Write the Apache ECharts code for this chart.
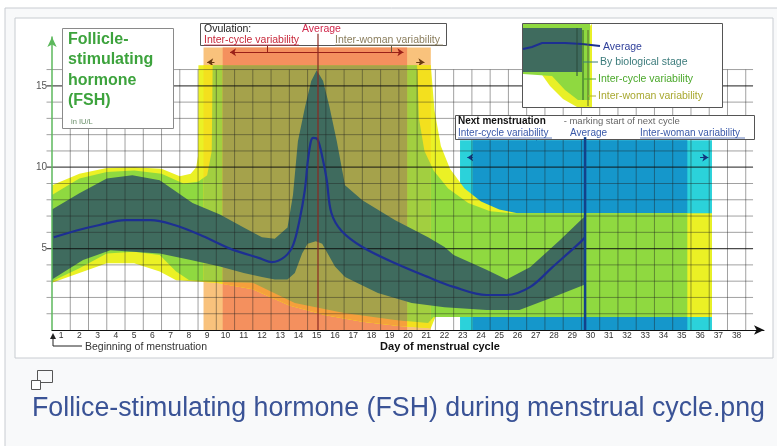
<!DOCTYPE html>
<html><head><meta charset="utf-8">
<script src="https://cdn.jsdelivr.net/npm/echarts@6/dist/echarts.min.js"></script>
<style>html,body{margin:0;padding:0;background:#fff}#c{width:777px;height:446px}</style>
</head><body><div id="c"></div>
<script>
// ---------------- data (chart units: x = day of cycle, y = FSH IU/L) ----------------
const dayLabels = ['1','2','3','4','5','6','7','8','9','10','11','12','13','14','15','16','17','18','19','20',
  '21','22','23','24','25','26','27','28','29','30','31','32','33','34','35','36','37','38'];
const levelLabels = [5, 10, 15];
const gridDays = [1,2,3,4,5,6,7,8,9,10,11,12,13,14,15,16,17,18,19,20,21,22,23,24,25,26,27,28,29,30,31,32,33,34,35,36,37,38];
const gridLevels = [1,2,3,4,5,6,7,8,9,10,11,12,13,14,15,16];

const fshAverage = [[0.1,5.7],[1.3,6.1],[2.6,6.45],[4.0,6.75],[5.4,6.75],[6.7,6.45],[8.1,5.85],[9.75,5.0],
  [11.4,4.4],[12.05,4.17],[12.75,4.5],[13.2,5.2],[13.55,6.7],[13.85,8.6],[14.05,10.7],[14.3,11.8],[14.55,11.7],
  [14.85,10.4],[15.05,9.2],[15.3,7.2],[15.85,6.1],[17.0,5.1],[18.8,4.1],[20.6,3.25],[22.0,2.65],[23.8,2.15],
  [24.9,2.15],[26.2,2.65],[27.4,3.85],[28.9,5.35],[29.2,5.7]];

const bioHigh = [[0,7.4],[1.5,8.4],[3.0,9.3],[4.4,9.5],[5.9,9.2],[7.7,7.8],[9.2,7.1],[10.5,6.3],[11.5,5.7],
  [12.2,5.6],[12.9,6.3],[13.2,8.3],[13.47,11.6],[13.86,13.7],[14.2,15.3],[14.5,15.95],[14.85,15.3],[15.2,13.7],
  [15.6,11.6],[16.05,8.9],[17.0,7.97],[18.8,6.75],[20.6,5.7],[21.5,5.1],[22.0,4.6],[23.8,3.7],[24.9,3.1],
  [26.2,3.87],[27.8,5.5],[29.2,7.0]];
const bioLow = [[0,3.1],[1.7,4.3],[3.2,4.9],[5.9,4.7],[7.6,4.3],[9.2,3.9],[10.5,3.5],[11.5,3.25],[12.2,3.1],
  [12.9,3.1],[13.3,3.5],[13.7,4.7],[14.0,5.3],[14.45,5.45],[14.8,5.3],[15.1,4.7],[15.5,3.9],[16.05,3.25],
  [17.85,2.27],[19.7,1.66],[21.5,1.4],[23.8,1.23],[25.6,1.23],[27.4,2.0],[29.2,2.8]];

const cycleHigh = [[0,8.3],[1.5,9.3],[3.0,9.7],[4.5,9.8],[6.0,9.6],[7.2,9.0],[8.0,9.1],[8.5,9.5],[8.75,11.0],
  [8.8,16.26],[20.0,16.26],[20.1,13.0],[20.4,11.0],[20.9,9.8],[21.7,8.7],[22.8,7.8],[24.0,7.3],[25.2,7.18],[34.8,7.18]];
const cycleLow = [[0,3.0],[1.5,3.8],[3.0,4.7],[4.5,4.8],[5.9,4.6],[6.8,3.6],[7.5,3.07],[9.0,2.95],[11.0,2.9],
  [13.3,1.66],[16.0,1.04],[18.8,0.61],[20.6,0.43],[20.9,0.8],[34.8,0.8]];

const womanHigh = [[0,8.9],[1.5,9.6],[3.0,9.95],[4.5,10.0],[6.0,9.9],[7.0,9.45],[7.6,9.6],[7.9,10.0],[8.0,10.7],
  [8.02,16.26],[20.75,16.26],[20.95,13.5],[21.3,11.3],[21.8,9.9],[22.6,8.7],[23.5,7.9],[24.5,7.4],[25.5,7.18],[36.15,7.18]];
const womanLow = [[0,2.9],[1.5,3.5],[3.0,4.1],[4.5,4.1],[5.9,3.6],[6.8,3.05],[9.0,2.9],[11.0,2.5],[13.0,1.5],
  [15.0,0.9],[17.0,0.5],[19.0,0.25],[20.75,0.1],[21.0,0.8],[36.15,0.8]];

const ovulationWoman = [8.3, 20.75];
const ovulationCycle = [9.35, 19.45];
const ovulationAverage = 14.57;
const ovulationTop = 17.36;
const nextWoman = [22.35, 36.15];
const nextCycle = [23.05, 34.8];
const nextAverage = 29.2;
const nextTop = 11.66;

// ---------------- helpers ----------------
const FF = '"Liberation Sans", Arial, sans-serif';
function interp(pts, x) {
  for (let i = 0; i < pts.length - 1; i++) {
    const [x0, y0] = pts[i], [x1, y1] = pts[i + 1];
    if (x >= x0 && x <= x1) return x1 === x0 ? y0 : y0 + (y1 - y0) * (x - x0) / (x1 - x0);
  }
  return pts[pts.length - 1][1];
}
function clipCurve(pts, a, b) {
  const s = Math.max(a, pts[0][0]), e = Math.min(b, pts[pts.length - 1][0]);
  if (s >= e) return [];
  const out = [[s, interp(pts, s)]];
  for (const p of pts) if (p[0] > s && p[0] < e) out.push(p);
  out.push([e, interp(pts, e)]);
  return out;
}
function band(hi, lo, color, z, range) {
  return {
    type: 'custom', z, silent: true, clip: false, data: [[0, 0]],
    renderItem: (params, api) => {
      const r = range || [-1e9, 1e9];
      const top = clipCurve(hi, r[0], r[1]);
      const bot = clipCurve(lo, r[0], r[1]).reverse();
      const pts = top.concat(bot).map(p => api.coord(p));
      return { type: 'polygon', shape: { points: pts }, style: { fill: color } };
    }
  };
}
function bar(xr, yTop, color, z) {
  return band([[xr[0], yTop], [xr[1], yTop]], [[xr[0], 0], [xr[1], 0]], color, z);
}

const series = [
  bar(ovulationWoman, ovulationTop, '#f9c27c', 2),
  bar(ovulationCycle, ovulationTop, '#f4905e', 3),
  bar(nextWoman, nextTop, '#2bd2da', 4),
  bar(nextCycle, nextTop, '#1597cb', 5),
  band(womanHigh, womanLow, '#ebf125', 6),
  band(cycleHigh, cycleLow, '#8fd940', 7),
  band(womanHigh, womanLow, '#f3e01e', 8, ovulationWoman),
  band(cycleHigh, cycleLow, '#a2cf40', 9, ovulationWoman),
  band(womanHigh, womanLow, '#f5a03c', 10, ovulationCycle),
  band(cycleHigh, cycleLow, '#a5a24b', 11, ovulationCycle),
  band(bioHigh, bioLow, '#3f6b5e', 12),
  { // grid lines on top of the coloured areas
    type: 'custom', z: 15, silent: true, clip: false, data: [[0, 0]],
    renderItem: (params, api) => {
      const ch = [];
      gridDays.forEach(d => {
        const a = api.coord([d, 0]), b = api.coord([d, 16]);
        ch.push({ type: 'line', shape: { x1: a[0], y1: a[1], x2: b[0], y2: b[1] }, style: { stroke: 'rgba(30,30,30,0.42)', lineWidth: 1 } });
      });
      gridLevels.forEach(v => {
        const a = api.coord([-0.3, v]), b = api.coord([38.4, v]);
        const major = levelLabels.includes(v);
        ch.push({ type: 'line', shape: { x1: a[0], y1: a[1], x2: b[0], y2: b[1] }, style: { stroke: major ? 'rgba(15,15,15,0.75)' : 'rgba(30,30,30,0.42)', lineWidth: major ? 1.3 : 1 } });
      });
      return { type: 'group', children: ch };
    }
  },
  { // average timing lines
    type: 'custom', z: 110, silent: true, clip: false, data: [[0, 0]],
    renderItem: (params, api) => {
      const a = api.coord([ovulationAverage, 0]), b = api.coord([ovulationAverage, 18.2]);
      const c = api.coord([nextAverage, 0]), d = api.coord([nextAverage, 11.85]);
      return { type: 'group', children: [
        { type: 'line', shape: { x1: a[0], y1: a[1], x2: b[0], y2: b[1] }, style: { stroke: '#8a2a22', lineWidth: 1.2 } },
        { type: 'line', shape: { x1: c[0], y1: c[1], x2: d[0], y2: d[1] }, style: { stroke: '#13418a', lineWidth: 2.5 } }
      ] };
    }
  },
  { // day labels under the axis, centred in each day
    type: 'custom', z: 20, silent: true, clip: false,
    data: dayLabels.map((t, i) => [i + 0.5, 0]),
    renderItem: (params, api) => {
      const p = api.coord([api.value(0), 0]);
      return { type: 'text', x: p[0], y: p[1] + 6, style: { text: dayLabels[params.dataIndex], fontSize: 8.5, fontFamily: FF, fill: '#333', align: 'center', verticalAlign: 'middle' } };
    }
  },
  {
    type: 'line', z: 18, data: fshAverage, smooth: 0.35, symbol: 'none', silent: true, clip: false,
    lineStyle: { color: '#1d2f92', width: 2.2 },
    markLine: {
      silent: true, animation: false, symbol: ['arrow', 'arrow'], symbolSize: 6, label: { show: false },
      lineStyle: { type: 'solid', width: 1 },
      data: [
        [{ coord: [9.75, 17.06], lineStyle: { color: '#9a2018', type: 'solid', width: 1.2 } }, { coord: [19.25, 17.06] }],
        [{ coord: [8.9, 16.45], symbol: 'none', lineStyle: { color: '#6a3a10', type: 'solid' } }, { coord: [8.5, 16.45], symbol: 'arrow' }],
        [{ coord: [19.95, 16.45], symbol: 'none', lineStyle: { color: '#6a3a10', type: 'solid' } }, { coord: [20.4, 16.45], symbol: 'arrow' }],
        [{ coord: [24.0, 11.23], lineStyle: { color: '#12357e', type: 'solid', width: 1.2 } }, { coord: [34.55, 11.23] }],
        [{ coord: [23.2, 10.6], symbol: 'none', lineStyle: { color: '#12357e', type: 'solid' } }, { coord: [22.75, 10.6], symbol: 'arrow' }],
        [{ coord: [35.5, 10.6], symbol: 'none', lineStyle: { color: '#12357e', type: 'solid' } }, { coord: [35.95, 10.6], symbol: 'arrow' }],
        [{ coord: [11.8, 17.06], symbol: 'none', lineStyle: { color: '#9a2018', type: 'solid' } }, { coord: [11.8, 17.5], symbol: 'none' }],
        [{ coord: [18.6, 17.06], symbol: 'none', lineStyle: { color: '#6a5a3a', type: 'solid' } }, { coord: [18.6, 17.5], symbol: 'none' }],
        [{ coord: [26.5, 11.23], symbol: 'none', lineStyle: { color: '#12357e', type: 'solid' } }, { coord: [26.5, 11.66], symbol: 'none' }]
      ]
    }
  }
];

// ---------------- annotations ----------------
const T = (x, y, text, size, color, extra) => ({ type: 'text', x, y, z: 102, silent: true,
  style: Object.assign({ text, fontSize: size, fontFamily: FF, fill: color, align: 'left', verticalAlign: 'middle' }, extra || {}) });
const L = (x1, y1, x2, y2, color, w, z) => ({ type: 'line', z: z || 102, silent: true, shape: { x1, y1, x2, y2 }, style: { stroke: color, lineWidth: w || 1 } });
const R = (x, y, w, h, fill, stroke, z) => ({ type: 'rect', z, silent: true, shape: { x, y, width: w, height: h }, style: { fill, stroke, lineWidth: 1 } });

const caption = 'Follice-stimulating hormone (FSH) during menstrual cycle.png';
const mctx = document.createElement('canvas').getContext('2d');
mctx.font = '27px "Liberation Sans"';
const capScale = 733 / mctx.measureText(caption).width;

const graphics = [
  R(5, 8, 780, 450, '#f8f9fa', '#c8ccd1', -100),
  R(15, 18, 758, 340, '#ffffff', '#c8ccd1', -99),
  // magnify icon
  R(37.5, 370.5, 15, 12, 'rgba(0,0,0,0)', '#555', 5),
  R(31.5, 380.5, 9, 9, '#ffffff', '#555', 6),
  { type: 'text', x: 32, y: 409, z: 5, scaleX: capScale, silent: true,
    style: { text: caption, fontSize: 27, fontFamily: FF, fill: '#3a5396', align: 'left', verticalAlign: 'middle' } },

  // title box
  R(62.5, 28.5, 111, 100, '#ffffff', '#8a8a8a', 100),
  { type: 'text', x: 68, y: 29, z: 102, silent: true,
    style: { text: 'Follicle-\nstimulating\nhormone\n(FSH)', fontSize: 16, fontWeight: 'bold', lineHeight: 20.5, fontFamily: FF, fill: '#3da33d', align: 'left', verticalAlign: 'top' } },
  T(71, 122, 'in IU/L', 7.5, '#6a8f6a'),

  // ovulation box
  R(200.5, 23.5, 246, 22, '#ffffff', '#555', 100),
  T(204, 29, 'Ovulation:', 10.5, '#222'),
  T(302, 29, 'Average', 10.5, '#d0264a'),
  T(204, 40, 'Inter-cycle variability', 10.5, '#c8283a'),
  L(204, 45, 299, 45, '#c8283a', 0.8),
  T(335, 40, 'Inter-woman variability', 10.5, '#8a7d5c'),
  L(335, 45, 443, 45, '#8a7d5c', 0.8),

  // right legend box
  R(522.5, 23.5, 200, 84, '#ffffff', '#555', 100),
  { type: 'polygon', z: 101, silent: true, shape: { points: [[540, 72], [592, 24], [592, 107], [577, 107], [563, 99], [550, 86]] }, style: { fill: '#e9f027' } },
  { type: 'polygon', z: 101, silent: true, shape: { points: [[523, 24], [590, 24], [590, 100], [578, 100], [565, 90], [552, 76], [523, 74]] }, style: { fill: '#8fd940' } },
  R(523, 28, 59, 44, '#3f6b5e', null, 101),
  { type: 'polyline', z: 102, silent: true, shape: { points: [[523, 49], [532, 47], [542, 43], [565, 43], [582, 44], [600, 46]] }, style: { stroke: '#1d2f92', lineWidth: 2, fill: null } },
  L(577, 28, 577, 76, '#2a4a3a', 1),
  L(583, 30, 583, 100, '#2a5a2a', 1),
  L(588, 30, 588, 106, '#5a6a2a', 1),
  T(603, 47, 'Average', 10.5, '#2f3f9a'),
  L(583, 62, 598, 62, '#3b7b7b', 1),
  T(600, 62, 'By biological stage', 10.5, '#3b7b7b'),
  L(583, 79, 596, 79, '#4aa82a', 1),
  T(598, 79, 'Inter-cycle variability', 10.5, '#4aa82a'),
  L(588, 96, 596, 96, '#b0b030', 1),
  T(598, 96, 'Inter-woman variability', 10.5, '#a8a830'),

  // next menstruation box
  R(455.5, 115.5, 299, 24, '#ffffff', '#555', 100),
  T(458, 121, 'Next menstruation', 10, '#111', { fontWeight: 'bold' }),
  T(561, 121, ' - marking start of next cycle', 9.5, '#666'),
  T(458, 133, 'Inter-cycle variability', 10, '#3a5aaa'),
  L(458, 138, 552, 138, '#3a5aaa', 0.8),
  T(570, 133, 'Average', 10, '#3a5aaa'),
  T(640, 133, 'Inter-woman variability', 10, '#3a5aaa'),
  L(640, 138, 745, 138, '#3a5aaa', 0.8),

  // x axis annotations
  { type: 'polyline', z: 102, silent: true, shape: { points: [[53, 335], [53, 346], [82, 346]] }, style: { stroke: '#222', lineWidth: 1, fill: null } },
  { type: 'polygon', z: 102, silent: true, shape: { points: [[50, 339], [56, 339], [53, 333]] }, style: { fill: '#222' } },
  T(85, 347, 'Beginning of menstruation', 10.5, '#333'),
  T(440, 347, 'Day of menstrual cycle', 11, '#111', { fontWeight: 'bold', align: 'center' })
];

const chart = echarts.init(document.getElementById('c'), null, { renderer: 'canvas' });
chart.setOption({
  animation: false,
  backgroundColor: 'transparent',
  grid: { left: 52, right: 13, top: 37, bottom: 116, containLabel: false },
  xAxis: {
    type: 'value', min: 0, max: 39, interval: 1, z: 20,
    axisLine: { show: true, onZero: false, symbol: ['none', 'arrow'], symbolSize: [7, 10], lineStyle: { color: '#111', width: 1 } },
    axisTick: { show: false }, axisLabel: { show: false }, splitLine: { show: false }
  },
  yAxis: {
    type: 'value', min: 0, max: 18, interval: 1, z: 20,
    axisLine: { show: true, symbol: ['none', 'arrow'], symbolSize: [7, 10], lineStyle: { color: '#5cb85c', width: 1.5 } },
    axisTick: { show: false },
    axisLabel: { formatter: v => levelLabels.includes(v) ? String(v) : '', color: '#555', fontSize: 10, fontFamily: FF, margin: 5 },
    splitLine: { show: false }
  },
  graphic: { elements: graphics },
  series
});
</script></body></html>
